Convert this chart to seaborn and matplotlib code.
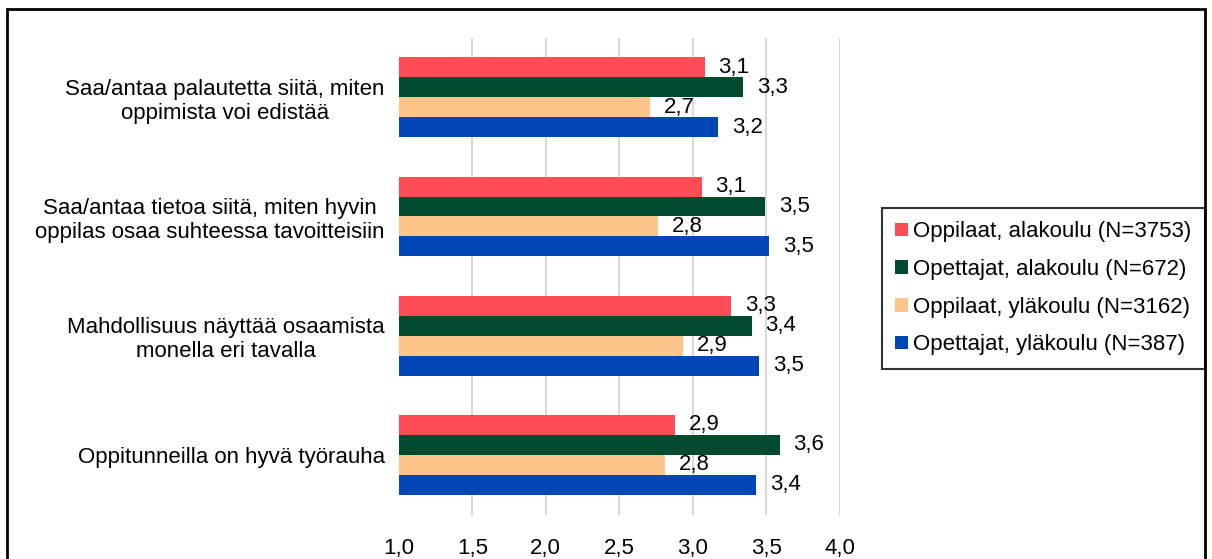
import pandas as pd
import matplotlib
matplotlib.use("Agg")
import matplotlib.pyplot as plt
from matplotlib.patches import Rectangle
import seaborn as sns

# --- Data ---
categories = [
    "Saa/antaa palautetta siitä, miten\noppimista voi edistää",
    "Saa/antaa tietoa siitä, miten hyvin\noppilas osaa suhteessa tavoitteisiin",
    "Mahdollisuus näyttää osaamista\nmonella eri tavalla",
    "Oppitunneilla on hyvä työrauha",
]
series = [
    "Oppilaat, alakoulu (N=3753)",
    "Opettajat, alakoulu (N=672)",
    "Oppilaat, yläkoulu (N=3162)",
    "Opettajat, yläkoulu (N=387)",
]
oppilaat_ala = [3.08, 3.06, 3.26, 2.88]
opettajat_ala = [3.34, 3.49, 3.40, 3.59]
oppilaat_yla = [2.71, 2.76, 2.93, 2.81]
opettajat_yla = [3.17, 3.52, 3.45, 3.43]
colors = ["#FF4D57", "#004B2D", "#FDC58A", "#0047B5"]
xticks = [1.0, 1.5, 2.0, 2.5, 3.0, 3.5, 4.0]

FS = 16

# --- Long-form table for seaborn ---
rows = []
for name, vals in zip(series, [oppilaat_ala, opettajat_ala, oppilaat_yla, opettajat_yla]):
    for cat, v in zip(categories, vals):
        rows.append({"category": cat, "series": name, "value": v})
df = pd.DataFrame(rows)

sns.set_theme(style="white")
plt.rcParams["font.family"] = ["Liberation Sans", "DejaVu Sans"]
plt.rcParams["text.color"] = "black"
plt.rcParams["xtick.color"] = "black"
plt.rcParams["ytick.color"] = "black"

fig = plt.figure(figsize=(12.12, 5.59), dpi=100)
ax = fig.add_axes([0.329, 0.0796, 0.364, 0.853])

sns.barplot(
    data=df, x="value", y="category", hue="series",
    order=categories, hue_order=series, palette=colors,
    orient="h", width=0.67, saturation=1, errorbar=None,
    linewidth=0, ax=ax,
)

# value labels with decimal comma
for container in ax.containers:
    labels = [f"{b.get_width():.1f}".replace(".", ",") for b in container]
    ax.bar_label(container, labels=labels, padding=10, fontsize=FS, color="black")

ax.set_xlim(1.0, 4.0)
ax.set_xticks(xticks)
ax.set_xticklabels([f"{t:.1f}".replace(".", ",") for t in xticks], fontsize=FS)
ax.set_xlabel("")
ax.set_ylabel("")
ax.tick_params(axis="x", length=0, pad=17, labelcolor="black")
ax.tick_params(axis="y", length=0, pad=10, labelsize=FS, labelcolor="black")
for lbl in ax.get_yticklabels():
    lbl.set_multialignment("center")

ax.grid(axis="x", color="#D9D9D9", linewidth=1.5)
ax.set_axisbelow(True)
ax.get_xgridlines()[0].set_visible(False)
for s in ax.spines.values():
    s.set_visible(False)

leg = ax.legend(
    loc="upper left", bbox_to_anchor=(882 / 1212, 1 - 208 / 559),
    bbox_transform=fig.transFigure, fontsize=FS, frameon=True,
    fancybox=False, edgecolor="black", handlelength=0.55, handleheight=0.55,
    handletextpad=0.25, labelspacing=0.75, borderpad=0.6, borderaxespad=0,
)
leg.get_frame().set_linewidth(1.5)
for t in leg.get_texts():
    t.set_color("black")

# outer chart border
fig.patches.append(Rectangle(
    (7 / 1212, -0.05), (1205 - 7) / 1212, 1.05 - 9 / 559,
    transform=fig.transFigure, fill=False, edgecolor="black", linewidth=2,
    clip_on=False,
))

fig.savefig("out.png", dpi=100)
